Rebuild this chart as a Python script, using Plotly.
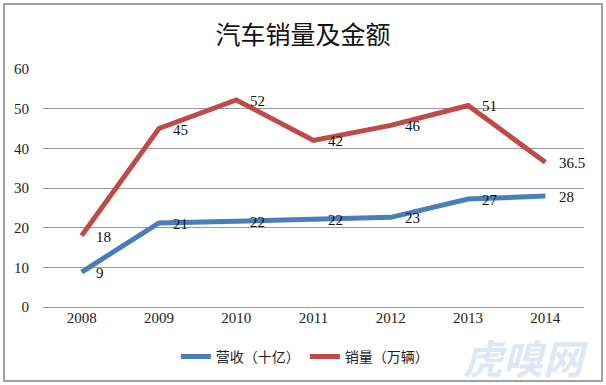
import plotly.graph_objects as go

years = ["2008", "2009", "2010", "2011", "2012", "2013", "2014"]
revenue = [8.8, 21.2, 21.6, 22.2, 22.6, 27.2, 28.0]
revenue_labels = ["9", "21", "22", "22", "23", "27", "28"]
sales = [18, 45, 52.2, 42, 45.8, 50.8, 36.5]
sales_labels = ["18", "45", "52", "42", "46", "51", "36.5"]
y_ticks = [0, 10, 20, 30, 40, 50, 60]

BLUE = "#4a7ebb"
RED = "#be4b48"
SERIF = "Liberation Serif, DejaVu Serif, serif"
CJK = "Noto Sans CJK SC, sans-serif"

fig = go.Figure()
fig.add_trace(go.Scatter(x=years, y=revenue, mode="lines", name="营收（十亿）",
                         line=dict(color=BLUE, width=5)))
fig.add_trace(go.Scatter(x=years, y=sales, mode="lines", name="销量（万辆）",
                         line=dict(color=RED, width=5)))

ann = []
for ys, ts in [(revenue, revenue_labels), (sales, sales_labels)]:
    for i, (y, t) in enumerate(zip(ys, ts)):
        ann.append(dict(x=i, y=y, text=t, showarrow=False, xanchor="left",
                        yanchor="middle", xshift=12, yshift=-1,
                        font=dict(family=SERIF, size=15, color="#111")))
ann.append(dict(xref="paper", yref="paper", x=1.011, y=-0.21, text="<b>虎嗅网</b>",
                showarrow=False, xanchor="right", yanchor="middle",
                font=dict(family=CJK, size=40, color="rgba(205,214,240,0.6)",
                          style="italic")))

fig.update_layout(
    width=606, height=385,
    margin=dict(l=43, r=22, t=69, b=78),
    paper_bgcolor="white", plot_bgcolor="white",
    title=dict(text="汽车销量及金额", x=0.5, xanchor="center", y=1 - 35 / 385,
               yanchor="middle", font=dict(family=CJK, size=25, color="#111")),
    showlegend=True,
    legend=dict(orientation="h", x=0.484, xanchor="center", y=-0.21,
                yanchor="middle", font=dict(family=CJK, size=14, color="#222"),
                bgcolor="rgba(0,0,0,0)"),
    annotations=ann,
    shapes=[dict(type="rect", xref="paper", yref="paper",
                 x0=-0.0721, x1=1.0333, y0=-0.311, y1=1.273,
                 line=dict(color="#a0a0a0", width=2))],
)
fig.update_xaxes(type="category", range=[-0.5, 6.5], showgrid=False,
                 showline=False, ticks="",
                 tickfont=dict(family=SERIF, size=15, color="#222"))
fig.update_yaxes(range=[0, 60], tickvals=y_ticks, showgrid=True,
                 gridcolor="#9a9a9a", gridwidth=1, zeroline=True,
                 zerolinecolor="#9a9a9a", zerolinewidth=1, showline=False,
                 ticks="outside", ticklen=10, tickcolor="rgba(0,0,0,0)",
                 tickfont=dict(family=SERIF, size=15, color="#222"))

fig.write_html("out.html", config={"displayModeBar": False},
               post_script="document.body.style.margin='0px';document.body.style.overflow='hidden';")
